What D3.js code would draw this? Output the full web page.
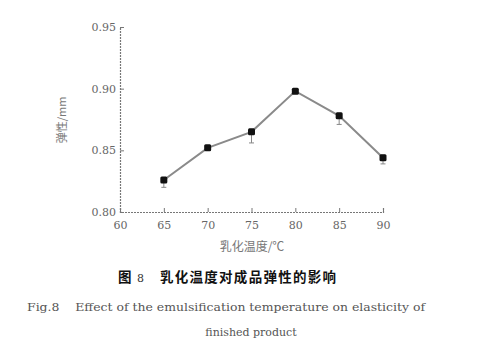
<!DOCTYPE html>
<html>
<head>
<meta charset="utf-8">
<script src="https://cdn.jsdelivr.net/npm/d3@7"></script>
<style>
  body { margin: 0; background: #fff; }
  svg { display: block; }
  text { white-space: pre; }
</style>
</head>
<body>
<svg id="chart" width="483" height="350"></svg>
<script>
// Data
const temps = [65, 70, 75, 80, 85, 90];
const elasticity = [0.826, 0.852, 0.865, 0.898, 0.878, 0.844];
const errLow = [0.006, 0.002, 0.009, 0.002, 0.007, 0.005];
const errHigh = [0.002, 0.001, 0.002, 0.001, 0.002, 0.002];
const xTicks = [60, 65, 70, 75, 80, 85, 90];
const yTicks = [0.80, 0.85, 0.90, 0.95];

const svg = d3.select("#chart");

const x = d3.scaleLinear().domain([60, 90]).range([120, 383]);
const y = d3.scaleLinear().domain([0.80, 0.95]).range([212, 27]);

const axisColor = "#777";
const serif = "DejaVu Serif";

// x axis, ticks point inward
const xAxis = svg.append("g")
    .attr("transform", `translate(0,${y(0.80)})`)
    .call(d3.axisBottom(x).tickValues(xTicks).tickSize(-4).tickPadding(9).tickFormat(d3.format("d")));

const yAxis = svg.append("g")
    .attr("transform", `translate(${x(60)},0)`)
    .call(d3.axisLeft(y).tickValues(yTicks).tickSize(-4).tickPadding(4).tickFormat(d3.format(".2f")));

[xAxis, yAxis].forEach(g => {
  g.attr("font-family", serif).attr("font-size", 11);
  g.select(".domain").attr("stroke", axisColor).attr("stroke-width", 1.2).attr("stroke-dasharray", "2,1");
  g.selectAll(".tick line").attr("stroke", axisColor);
  g.selectAll(".tick text").attr("fill", "#666");
});

// error bars
const eb = svg.append("g").attr("stroke", "#888").attr("stroke-width", 1);
temps.forEach((t, i) => {
  const cx = x(t);
  const lo = y(elasticity[i] - errLow[i]);
  const hi = y(elasticity[i] + errHigh[i]);
  eb.append("line").attr("x1", cx).attr("x2", cx).attr("y1", lo).attr("y2", hi);
  [lo, hi].forEach(v => {
    eb.append("line").attr("x1", cx - 2.5).attr("x2", cx + 2.5).attr("y1", v).attr("y2", v);
  });
});

// line
const line = d3.line().x((d, i) => x(temps[i])).y(d => y(d));
svg.append("path")
    .datum(elasticity)
    .attr("fill", "none")
    .attr("stroke", "#8a8a8a")
    .attr("stroke-width", 2)
    .attr("d", line);

// markers
svg.append("g").selectAll("rect")
  .data(elasticity)
  .join("rect")
    .attr("x", (d, i) => x(temps[i]) - 3.5)
    .attr("y", d => y(d) - 3.5)
    .attr("width", 7)
    .attr("height", 7)
    .attr("rx", 1.5)
    .attr("fill", "#111");

// axis titles
svg.append("text")
    .attr("transform", "translate(66,120) rotate(-90)")
    .attr("text-anchor", "middle")
    .attr("fill", "#777")
    .style("font-family", "'Noto Sans CJK SC', sans-serif")
    .style("font-size", "11px")
    .text("弹性/mm");

svg.append("text")
    .attr("x", 252).attr("y", 251)
    .attr("text-anchor", "middle")
    .attr("fill", "#777")
    .style("font-family", "'Noto Sans CJK SC', sans-serif")
    .style("font-size", "12px")
    .text("乳化温度/℃");

// captions
svg.append("text")
    .attr("x", 118).attr("y", 282)
    .attr("fill", "#111")
    .style("font-family", "'Noto Sans CJK SC', sans-serif")
    .style("font-size", "13.5px")
    .style("font-weight", "bold")
    .text("图 ");

svg.append("text")
    .attr("x", 137).attr("y", 282)
    .attr("fill", "#333")
    .style("font-family", serif)
    .style("font-size", "11px")
    .text("8");

svg.append("text")
    .attr("x", 160).attr("y", 282)
    .attr("fill", "#111")
    .attr("textLength", 176)
    .attr("lengthAdjust", "spacing")
    .style("font-family", "'Noto Sans CJK SC', sans-serif")
    .style("font-size", "13.5px")
    .style("font-weight", "bold")
    .text("乳化温度对成品弹性的影响");

svg.append("text")
    .attr("x", 27).attr("y", 311)
    .attr("fill", "#555")
    .attr("textLength", 398)
    .attr("lengthAdjust", "spacingAndGlyphs")
    .style("font-family", serif)
    .style("font-size", "11px")
    .text("Fig.8    Effect of the emulsification temperature on elasticity of");

svg.append("text")
    .attr("x", 251).attr("y", 336)
    .attr("text-anchor", "middle")
    .attr("fill", "#555")
    .style("font-family", serif)
    .style("font-size", "11px")
    .text("finished product");
</script>
</body>
</html>
